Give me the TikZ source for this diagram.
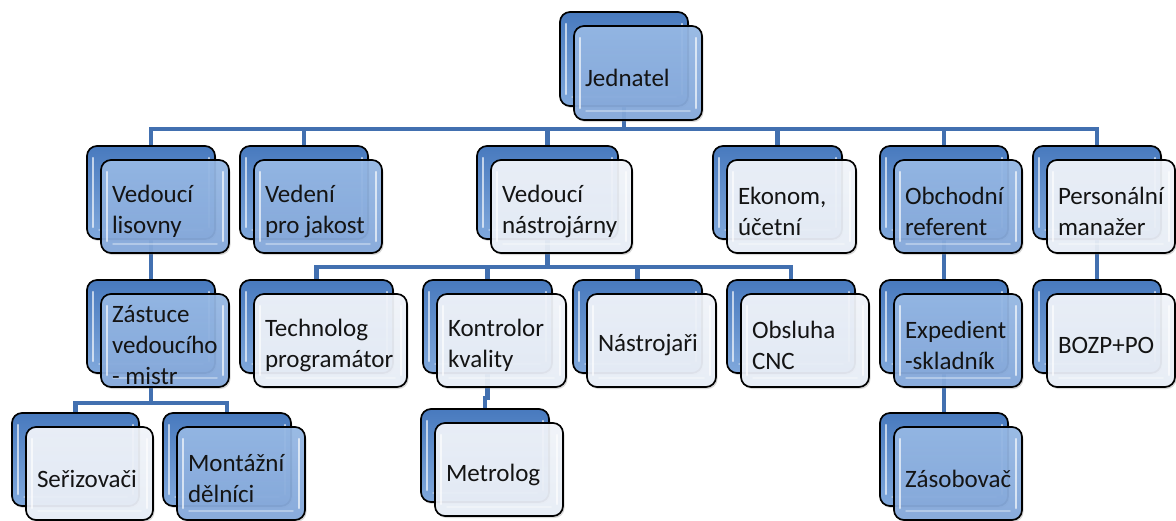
\documentclass[tikz,border=0pt]{standalone}
\usepackage{fontspec}
\setmainfont{Carlito}
\usetikzlibrary{shadows}
\pgfdeclarelayer{background}
\pgfsetlayers{background,main}
\definecolor{connc}{RGB}{66,112,176}
\definecolor{backtop}{RGB}{72,122,190}
\definecolor{backbot}{RGB}{128,168,220}
\definecolor{bluetop}{RGB}{150,185,230}
\definecolor{bluebot}{RGB}{132,168,219}
\definecolor{whitetop}{RGB}{243,246,252}
\definecolor{whitebot}{RGB}{233,239,248}
\definecolor{txt}{RGB}{20,20,20}
\tikzset{
  boxbase/.style={draw=black, line width=1.7pt, rounded corners=10pt,
    drop shadow={shadow xshift=1.5pt, shadow yshift=-2pt, opacity=0.3},
    inner xsep=11pt, inner ysep=0pt, text=txt,
    font=\fontsize{25}{31}\selectfont,
    path picture={
      \draw[white, opacity=0.65, line width=2.5pt, line cap=round]
        ([xshift=6pt,yshift=-12pt]path picture bounding box.north west) --
        ([xshift=6pt,yshift=12pt]path picture bounding box.south west);
      \draw[white, opacity=0.65, line width=2.5pt, line cap=round]
        ([xshift=-6pt,yshift=-12pt]path picture bounding box.north east) --
        ([xshift=-6pt,yshift=12pt]path picture bounding box.south east);
      \draw[white, opacity=0.35, line width=1.5pt, line cap=round]
        ([xshift=12pt,yshift=9pt]path picture bounding box.south west) --
        ([xshift=-12pt,yshift=9pt]path picture bounding box.south east);
    }},
  backbox/.style={boxbase, top color=backtop, bottom color=backbot},
  bluebox/.style={boxbase, top color=bluetop, bottom color=bluebot,
    fill opacity=0.93, text opacity=1},
  whitebox/.style={boxbase, top color=whitetop, bottom color=whitebot,
    fill opacity=0.93, text opacity=1},
  conn/.style={draw=connc, line width=4.8pt}
}
% #1 name, #2 x, #3 y (back top-left), #4 w, #5 h, #6 front style, #7 text
\newcommand{\orgunit}[7]{%
  \pgfmathsetmacro{\orgtw}{#4-22}%
  \pgfmathsetmacro{\orgbx}{#2+#4/2}%
  \pgfmathsetmacro{\orgby}{#3+#5/2}%
  \node[backbox, minimum width=#4pt, minimum height=#5pt] (#1B) at (\orgbx,\orgby) {};
  \node[#6, minimum width=#4pt, minimum height=#5pt] (#1) at (\orgbx+14,\orgby+14)
    {\raisebox{-5pt}[\height][\depth]{\parbox[c]{\orgtw pt}{\raggedright #7}}};
}
\begin{document}
\begin{tikzpicture}[x=1pt,y=-1pt]
\useasboundingbox (0,0) rectangle (1176,520);
\clip (0,0) rectangle (1176,520);
% level 1
\orgunit{j}{560}{12}{128}{94}{bluebox}{Jednatel}
% level 2
\orgunit{vl}{87}{146}{128}{93}{bluebox}{Vedoucí\\lisovny}
\orgunit{vj}{240}{146}{128}{93}{bluebox}{Vedení\\pro jakost}
\orgunit{vn}{477}{146}{141}{93}{whitebox}{Vedoucí\\nástrojárny}
\orgunit{ek}{713}{146}{129}{93}{whitebox}{Ekonom,\\účetní}
\orgunit{or}{880}{146}{128}{93}{bluebox}{Obchodní\\referent}
\orgunit{pm}{1033}{146}{128}{93}{whitebox}{Personální\\manažer}
% level 3
\orgunit{zm}{87}{280}{128}{93}{bluebox}{Zástuce\\vedoucího\\- mistr}
\orgunit{tp}{240}{280}{153}{93}{whitebox}{Technolog\\programátor}
\orgunit{kk}{423}{280}{129}{93}{whitebox}{Kontrolor\\kvality}
\orgunit{na}{573}{280}{129}{93}{whitebox}{Nástrojaři}
\orgunit{oc}{727}{280}{128}{93}{whitebox}{Obsluha\\CNC}
\orgunit{es}{880}{280}{128}{93}{bluebox}{Expedient\\-skladník}
\orgunit{bz}{1033}{280}{128}{93}{whitebox}{BOZP+PO}
% level 4
\orgunit{se}{12}{413}{127}{93}{whitebox}{Seřizovači}
\orgunit{md}{163}{413}{128}{93}{bluebox}{Montážní\\dělníci}
\orgunit{me}{421}{409}{128}{93}{whitebox}{Metrolog}
\orgunit{za}{880}{413}{128}{93}{bluebox}{Zásobovač}
% connectors
\begin{pgfonlayer}{background}
\foreach \c in {vl,vj,vn,ek,or,pm}
  \draw[conn] (jB.center) -- (jB.center |- 0,129) -| (\c B.center);
\draw[conn] (vlB.center) -- (zmB.center);
\foreach \c in {tp,kk,na,oc}
  \draw[conn] (vnB.center) -- (vnB.center |- 0,267) -| (\c B.center);
\foreach \c in {se,md}
  \draw[conn] (zmB.center) -- (zmB.center |- 0,403) -| (\c B.center);
\draw[conn] (kkB.center) -- (kkB.center |- 0,398) -| (meB.center);
\draw[conn] (orB.center) -- (esB.center);
\draw[conn] (esB.center) -- (zaB.center);
\draw[conn] (pmB.center) -- (bzB.center);
\end{pgfonlayer}
\end{tikzpicture}
\end{document}
